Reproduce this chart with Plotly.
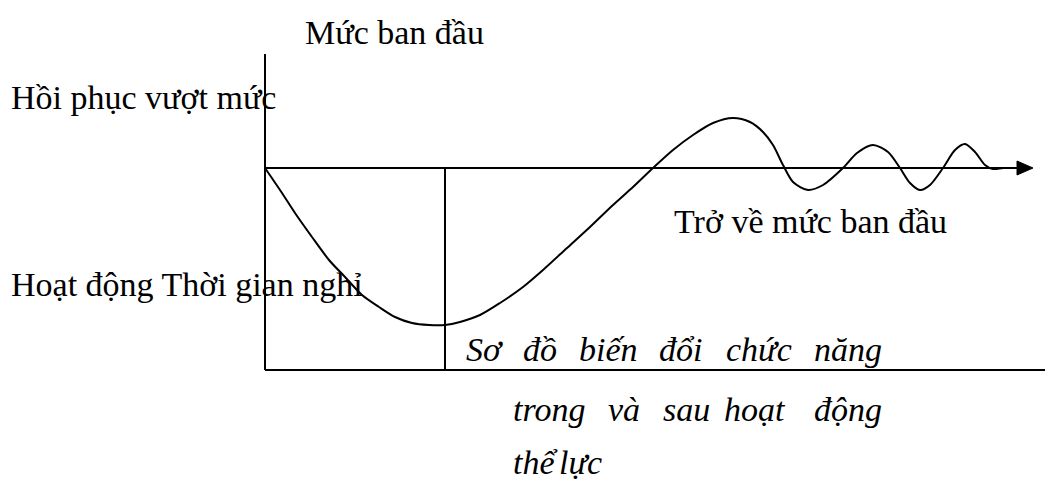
import plotly.graph_objects as go

# Function level over time: drop during activity, recovery with overshoot,
# then damped oscillation back to the initial level (level 0).
time = [0, 17, 30, 47, 64, 80, 97, 114, 130, 147, 164, 180,
        195, 215, 235, 258, 278, 302, 325, 348, 368, 388,
        408, 428, 448, 468, 485, 498, 508, 518, 528, 543, 558, 578,
        592, 608, 623, 635, 645, 655, 665, 678, 690, 700, 710, 720,
        728, 738, 745]
level = [0, -25, -45, -69, -92, -109, -127, -139, -149, -155, -157, -157,
         -154, -147, -135, -119, -102, -80, -59, -37, -19, 0,
         18, 33, 45, 50, 46, 36, 23, 3, -14, -22, -17, 0,
         15, 23, 16, 0, -15, -22, -17, 0, 18, 24, 16, 3,
         -1, 0, 0]

activity_end = 180      # end of activity phase / start of rest
axis_top = 114
floor_level = -202
arrow_base = 752
arrow_tip = 768
arrow_half = 7

W, H = 1045, 483
x_range = [-265, 780]
y_range = [-315, 168]

FONT = "Liberation Serif"
SIZE = 34
black = "#000000"

fig = go.Figure()
fig.add_trace(go.Scatter(
    x=time, y=level, mode="lines",
    line=dict(color=black, width=2, shape="spline", smoothing=0.8),
    hoverinfo="skip", showlegend=False,
))

line_style = dict(color=black, width=2)
shapes = [
    # vertical axis
    dict(type="line", x0=0, x1=0, y0=axis_top, y1=floor_level, line=line_style),
    # initial level axis with arrow
    dict(type="line", x0=0, x1=arrow_base, y0=0, y1=0, line=line_style),
    dict(type="path",
         path=f"M {arrow_base},{arrow_half} L {arrow_tip},0 L {arrow_base},{-arrow_half} Z",
         fillcolor=black, line=dict(color=black, width=1)),
    # activity / rest divider
    dict(type="line", x0=activity_end, x1=activity_end, y0=0, y1=floor_level,
         line=line_style),
    # bottom line
    dict(type="line", x0=0, x1=x_range[1], y0=floor_level, y1=floor_level,
         line=line_style),
]

# Labels: (text, left x, centre y)
labels = [
    ("Mức ban đầu", 38, 136),
    ("Hồi phục vượt mức", -256, 71),
    ("Hoạt động Thời gian nghỉ", -256, -116),
    ("Trở về mức ban đầu", 407, -53),
]

caption_words = [
    ["Sơ", "đồ", "biến", "đổi", "chức", "năng"],
    ["trong", "và", "sau", "hoạt", "động"],
    ["thể", "lực"],
]
caption_x = [
    [199, 256, 312, 392, 459, 547],
    [246, 341, 396, 457, 547],
    [246, 292],
]
caption_y = [-181, -241, -294]

annotations = []
for text, x, y in labels:
    annotations.append(dict(
        text=text, x=x, y=y, xref="x", yref="y", xanchor="left",
        yanchor="middle", showarrow=False,
        font=dict(family=FONT, size=SIZE, color=black),
    ))
for words, xs, y in zip(caption_words, caption_x, caption_y):
    for w, x in zip(words, xs):
        annotations.append(dict(
            text=f"<i>{w}</i>", x=x, y=y, xref="x", yref="y",
            xanchor="left", yanchor="middle", showarrow=False,
            font=dict(family=FONT, size=SIZE, color=black),
        ))

fig.update_layout(
    width=W, height=H,
    margin=dict(l=0, r=0, t=0, b=0),
    paper_bgcolor="white", plot_bgcolor="white",
    xaxis=dict(range=x_range, visible=False, fixedrange=True),
    yaxis=dict(range=y_range, visible=False, fixedrange=True),
    shapes=shapes, annotations=annotations,
    showlegend=False,
)

fig.write_html("out.html", config={"displayModeBar": False})
